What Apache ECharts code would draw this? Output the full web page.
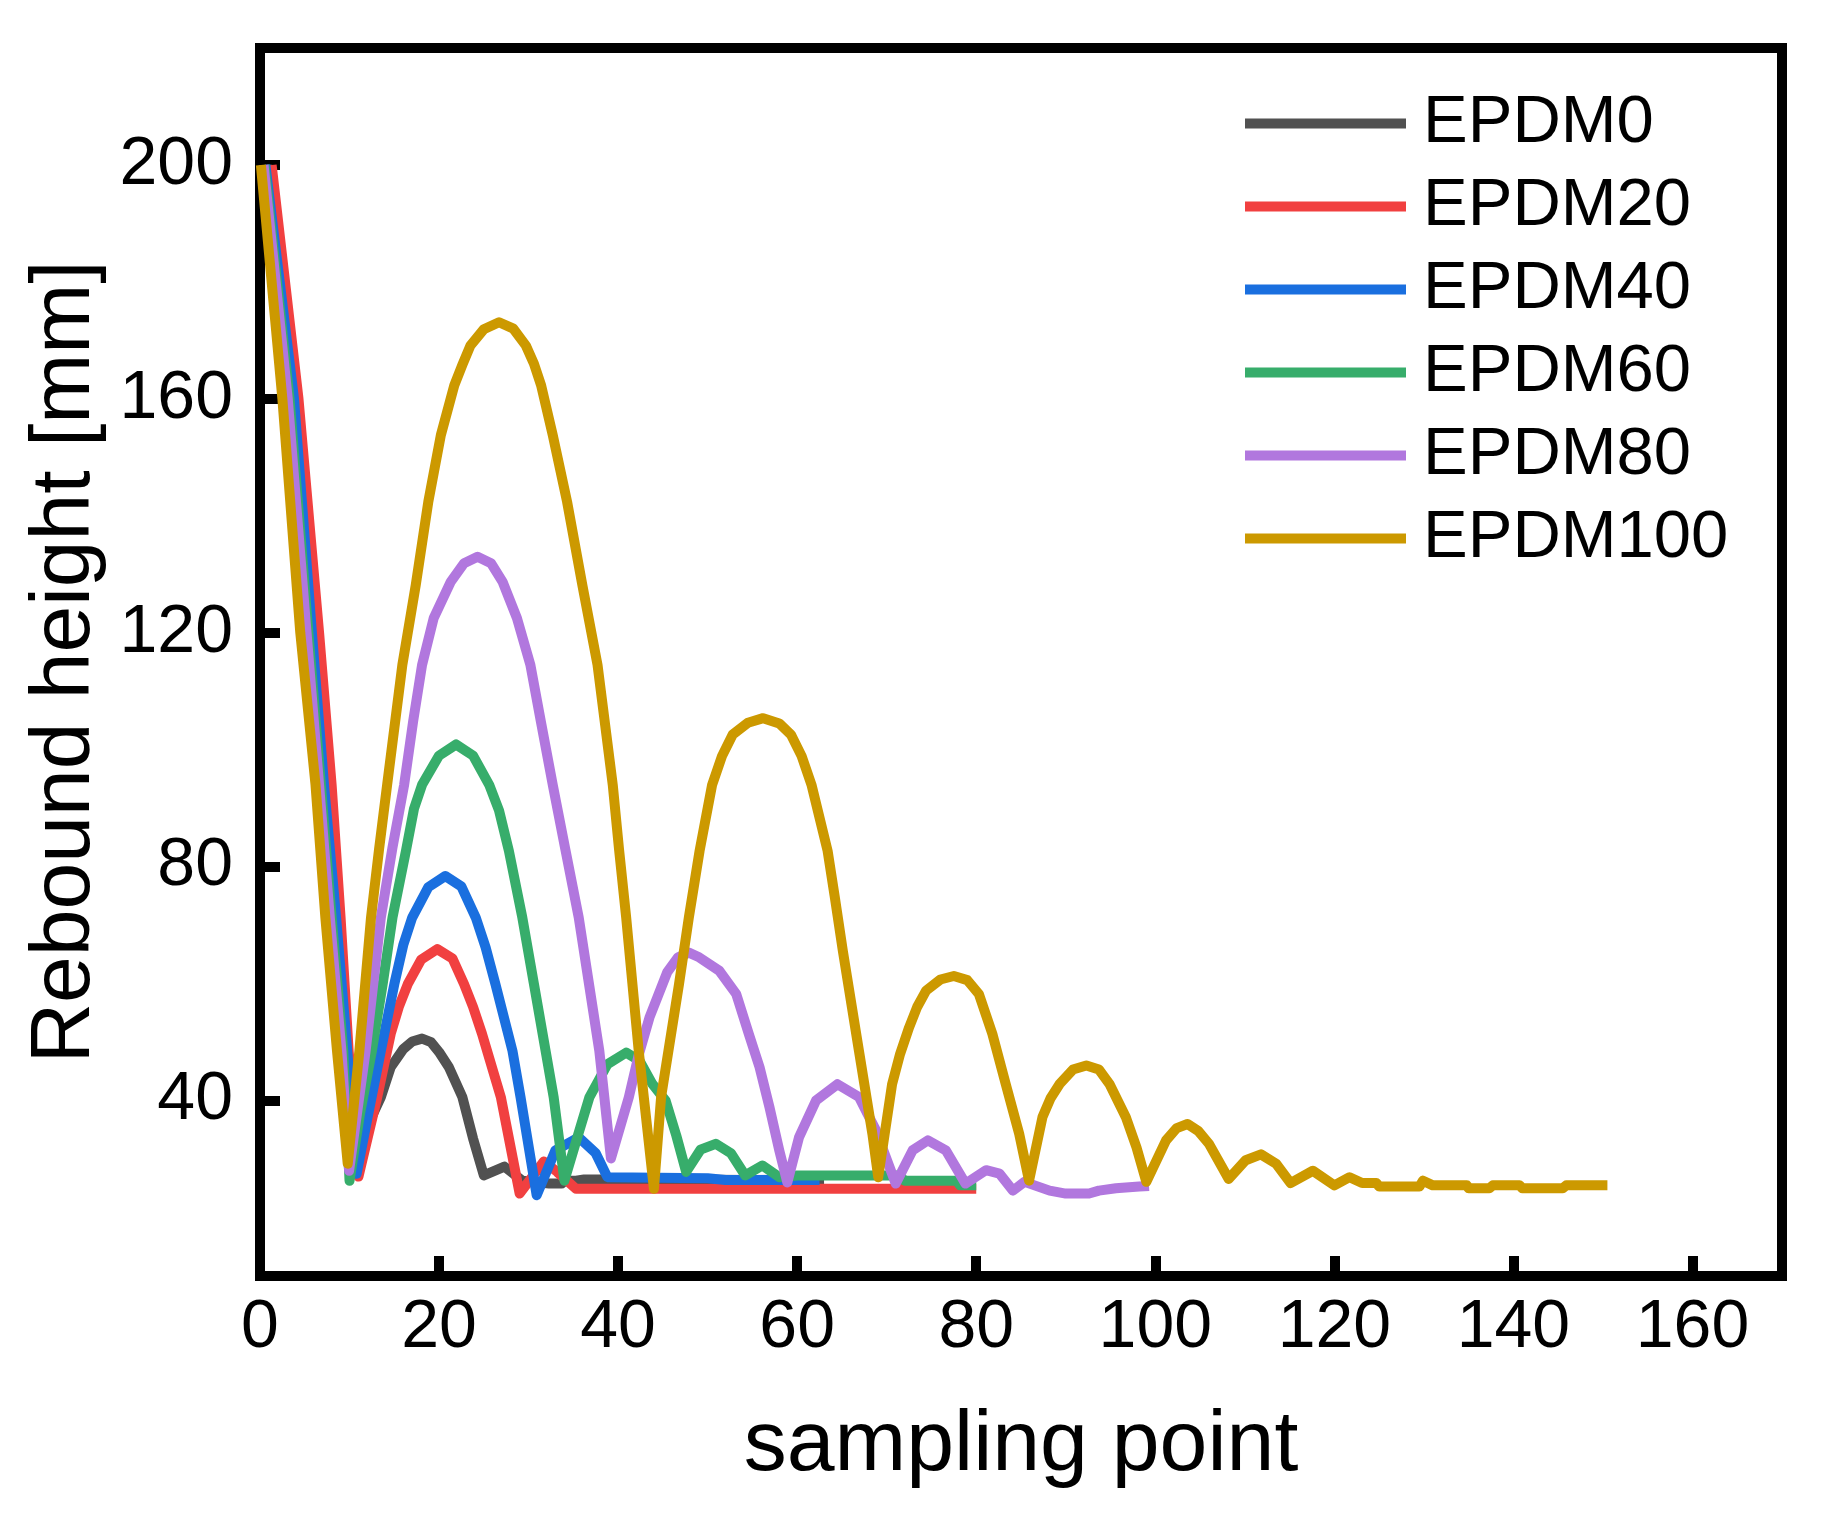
<!DOCTYPE html>
<html>
<head>
<meta charset="utf-8">
<script src="https://cdn.jsdelivr.net/npm/echarts@6/dist/echarts.min.js"></script>
<style>
html,body{margin:0;padding:0;background:#fff;}
#chart{width:1824px;height:1523px;}
</style>
</head>
<body>
<div id="chart"></div>
<script>
// ---- data ----
const seriesNames = ['EPDM0', 'EPDM20', 'EPDM40', 'EPDM60', 'EPDM80', 'EPDM100'];
const seriesColors = ['#515151', '#F14040', '#1A6FDF', '#37AD6B', '#B177DE', '#CC9900'];
const xTicks = [0, 20, 40, 60, 80, 100, 120, 140, 160];
const yTicks = [40, 80, 120, 160, 200];

const EPDM0 = [[0.8,200],[3.6,160],[5.7,120],[7.0,94],[8.3,71.3],[9.5,48.5],[10.4,28.5],
  [11.8,35],[13.5,40.6],[14.6,45.7],[16.0,48.8],[17.0,50.1],[18.1,50.6],[19.1,50],[20.0,48.3],[21.1,45.7],[22.6,40.6],
  [23.8,33.5],[25.0,27.2],[27.3,28.7],[29.3,26.3],[32.3,25.8],[33.7,25.8],[34.0,26.3],[35.3,26.3],
  [36.2,26.5],[45,26.5],[55,26.4],[63,26.5]];

const EPDM20 = [[1.3,200],[4.3,160],[6.6,120],[8.0,94],[9.0,71.3],[9.9,48.5],[11.0,27],
  [13.1,40.6],[14.6,51.4],[15.5,56],[16.5,59.9],[18.0,64.1],[19.8,65.9],[21.5,64.3],[22.8,59.9],[23.8,56],[24.8,51.4],
  [26.9,40.6],[29.0,24.1],[31.7,29.6],[33.2,27.8],[35.3,24.9],[50,24.9],[65,24.9],[80,24.9]];

const EPDM40 = [[0.6,200],[3.8,160],[5.8,120],[7.15,94],[8.5,71.3],[9.75,48.5],[10.8,27.5],
  [12.0,37],[13.5,48.5],[15.0,59.9],[16.0,66.6],[17.0,71.3],[18.8,76.5],[20.7,78.4],[22.5,76.6],[24.1,71.3],
  [25.2,66.2],[26.3,59.9],[28.2,48.5],[29.1,40.6],[30.9,23.8],[33.0,31.5],[35.6,33.7],[37.5,31],[38.8,26.9],
  [50,26.7],[52,26.4],[62.5,26.4]];

const EPDM60 = [[0.5,200],[3.3,160],[5.4,120],[6.8,94],[8.0,71.3],[9.3,48.5],[10.0,26.3],
  [11.2,38],[12.5,48.5],[13.7,59.9],[14.8,71.3],[16.3,82.7],[17.2,89.9],[18.1,94.0],[20.0,99],[21.9,100.9],
  [23.8,99],[25.6,94],[26.7,89.6],[27.8,82.7],[29.3,71.3],[30.6,59.9],[31.9,48.5],[32.8,40.6],[34.0,26.3],
  [35.4,33.5],[36.8,40.6],[38.8,46.2],[40.9,48.2],[42.4,46.8],[43.8,42.9],[45.3,40],[46.5,34],
  [47.6,27.8],[49.2,31.6],[50.9,32.6],[52.6,31],[54.2,27.2],[56.1,28.9],[58.0,26.9],[60,27.2],
  [71.4,27.2],[72,26.3],[77.8,26.3],[78.2,25.5],[80,25.5]];

const EPDM80 = [[0.4,200],[3.1,160],[5.2,120],[6.6,94],[7.8,71.3],[9.1,48.5],[9.95,28],
  [11.8,48.5],[13.5,71.3],[14.8,83.3],[16.1,94],[17.1,104.8],[18.1,114.5],[19.4,122.5],[21.3,128.7],[22.8,131.9],
  [24.3,133],[25.8,131.9],[27.1,128.7],[28.7,122.5],[30.2,114.5],[31.4,104.6],[32.7,94],[34.1,83],[35.6,71.3],
  [37.9,48.5],[39.2,30.1],[41.2,40.6],[42.3,47.8],[43.5,54.2],[45.5,62],[46.7,64.5],[47.9,65.3],[49.05,64.5],
  [51.3,62.2],[53.2,58.2],[54.6,51.4],[55.8,45.7],[56.9,38.9],
  [58.0,31.5],[58.9,26],[60.2,33.7],[62.1,40],[64.5,42.8],[66.9,40.6],[68.8,34.9],[71.0,25.8],
  [72.9,31.5],[74.6,33.2],[76.6,31.5],[78.8,25.8],[81.1,28.1],[82.6,27.5],[84.1,24.6],[85.4,26.1],
  [88.2,24.6],[90,24.1],[92.6,24.1],[93.7,24.6],[95.6,25],[98.2,25.3],[99.3,25.4]];

const EPDM100 = [[0.1,200],[2.5,160],[4.5,120],[6.2,94],[7.3,71.3],[8.6,48.5],[9.8,29.2],
  [11.1,48.5],[12.4,71.3],[13.3,83],[14.2,94],[15.9,114.5],[17.4,128.2],[18.8,142.4],[20.2,153.8],[21.7,162.3],
  [22.6,165.8],[23.5,169.1],[25.0,171.9],[26.7,173.1],[28.3,172.0],[29.7,169.1],[30.6,166],[31.4,162.3],
  [32.7,153.8],[34.3,142.4],[36,128.2],[37.7,114.5],[39.4,94],[40.1,83],[40.9,71.3],[42.3,48.5],[44.0,24.9],
  [44.8,40.6],[46.8,59.9],[47.9,71.3],[49.1,82.7],[50.5,94],[51.6,98.9],[52.8,102.6],[54.5,104.6],[56.2,105.4],
  [58.0,104.5],[59.3,102.6],[60.5,98.9],[61.6,94],[63.4,82.7],[64.2,74.8],[65.1,65.6],[66.9,48.5],
  [68.4,34.3],[69.05,26.9],[70.6,42.8],[71.5,48],[72.5,52.5],[73.4,56.0],[74.4,58.8],[76.0,60.7],[77.5,61.3],
  [79.0,60.6],[80.3,58.2],[81.8,51.4],[83.3,42.8],[84.8,34.3],[85.9,26.3],[87.4,37.2],[88.3,40.4],[89.3,42.8],
  [90.8,45.3],[92.3,46],[93.7,45.3],[94.9,42.8],[96.7,37.2],[97.9,32],
  [99.0,26.1],[101.2,33.2],[102.4,35.3],[103.6,36],[104.8,34.8],[106,32.6],[108.2,26.6],[110.1,29.8],[111.8,30.8],[113.5,29.2],
  [115.1,25.9],[117.6,28],[120,25.5],[121.7,26.9],[123.1,25.9],[124.7,25.9],[125,25.3],[129.5,25.3],
  [129.9,26.3],[131,25.5],[134.8,25.5],[135,25],[137.3,25],[137.7,25.5],[140.7,25.5],[141,25],
  [145.5,25],[145.9,25.5],[150.5,25.5]];

const seriesData = [EPDM0, EPDM20, EPDM40, EPDM60, EPDM80, EPDM100];

// ---- chart ----
const FONT = 'Liberation Sans, Arial, sans-serif';
const chart = echarts.init(document.getElementById('chart'), null, {renderer: 'canvas'});
const option = {
  animation: false,
  backgroundColor: '#ffffff',
  color: seriesColors,
  grid: {
    left: 260, right: 42, top: 48, bottom: 247,
    show: true, borderColor: '#000', borderWidth: 10, backgroundColor: 'transparent'
  },
  legend: {
    orient: 'vertical',
    left: 1240, top: 85,
    icon: 'rect',
    itemWidth: 161, itemHeight: 10, itemGap: 16,
    data: seriesNames,
    textStyle: {fontFamily: FONT, fontSize: 67, color: '#000', padding: [0, 0, 0, 12]}
  },
  xAxis: {
    type: 'value', min: 0, max: 170,
    name: 'sampling point', nameLocation: 'middle', nameGap: 127,
    nameTextStyle: {fontFamily: FONT, fontSize: 86, color: '#000'},
    axisLine: {show: true, lineStyle: {color: '#000', width: 10}},
    axisTick: {show: true, inside: true, length: 20, customValues: xTicks, lineStyle: {color: '#000', width: 10}},
    axisLabel: {show: true, margin: 18, customValues: xTicks, fontFamily: FONT, fontSize: 68, color: '#000'},
    splitLine: {show: false}
  },
  yAxis: {
    type: 'value', min: 10, max: 220,
    name: 'Rebound height [mm]', nameLocation: 'middle', nameGap: 152,
    nameTextStyle: {fontFamily: FONT, fontSize: 84, color: '#000'},
    axisLine: {show: true, lineStyle: {color: '#000', width: 10}},
    axisTick: {show: true, inside: true, length: 20, customValues: yTicks, lineStyle: {color: '#000', width: 10}},
    axisLabel: {show: true, margin: 27, customValues: yTicks, fontFamily: FONT, fontSize: 68, color: '#000'},
    splitLine: {show: false}
  },
  series: seriesNames.map((name, i) => ({
    name: name,
    type: 'line',
    data: seriesData[i],
    showSymbol: false,
    symbol: 'none',
    smooth: false,
    lineStyle: {width: 10, color: seriesColors[i], join: 'round'},
    itemStyle: {color: seriesColors[i]}
  }))
};
chart.setOption(option);
</script>
</body>
</html>
